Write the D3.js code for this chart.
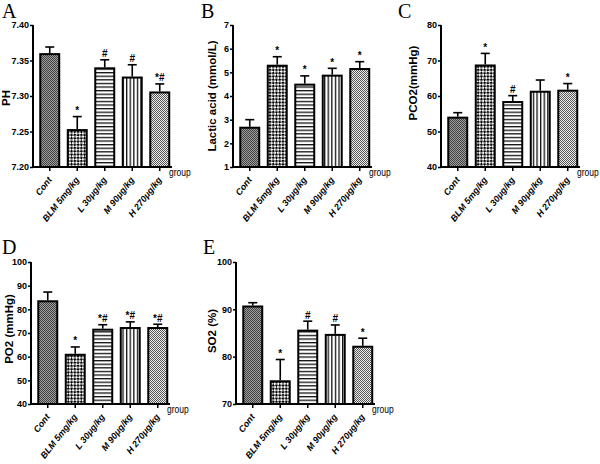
<!DOCTYPE html>
<html><head><meta charset="utf-8">
<script src="https://cdn.jsdelivr.net/npm/d3@7"></script>
<style>
html,body{margin:0;background:#fff;overflow:hidden;}
svg{display:block;}
.tick text{font-family:"Liberation Sans",Arial,sans-serif;font-weight:bold;font-size:9px;}
</style></head>
<body><svg id="chart" width="600" height="464"></svg>
<script>
const categories = ["Cont","BLM 5mg/kg","L 30μg/kg","M 90μg/kg","H 270μg/kg"];

const phMean = [7.359, 7.252, 7.339, 7.326, 7.305];
const phSem  = [0.010, 0.019, 0.012, 0.018, 0.012];
const phAnn  = ["", "*", "#", "#", "*#"];
const phTicks = [7.20, 7.25, 7.30, 7.35, 7.40];

const lacticMean = [2.66, 5.28, 4.48, 4.86, 5.14];
const lacticSem  = [0.34, 0.38, 0.37, 0.31, 0.31];
const lacticAnn  = ["", "*", "*", "*", "*"];
const lacticTicks = [1, 2, 3, 4, 5, 6, 7];

const pco2Mean = [53.9, 68.6, 58.3, 61.2, 61.5];
const pco2Sem  = [1.4, 3.4, 1.8, 3.3, 2.0];
const pco2Ann  = ["", "*", "#", "", "*"];
const pco2Ticks = [40, 50, 60, 70, 80];

const po2Mean = [83.4, 60.8, 71.4, 72.1, 72.1];
const po2Sem  = [3.9, 3.3, 2.1, 2.6, 1.6];
const po2Ann  = ["", "*", "*#", "*#", "*#"];
const po2Ticks = [40, 50, 60, 70, 80, 90, 100];

const so2Mean = [90.6, 74.8, 85.5, 84.6, 82.1];
const so2Sem  = [0.8, 4.6, 2.0, 2.1, 1.8];
const so2Ann  = ["", "*", "#", "#", "*"];
const so2Ticks = [70, 80, 90, 100];

const panels = [
  {letter:"A", lx:2, ly:18, x0:33, yTop:25, yBot:167, mean:phMean, sem:phSem, ann:phAnn, ticks:phTicks, fmt:d3.format(".2f"), title:"PH", tx:7, ty:98},
  {letter:"B", lx:201, ly:18, x0:233, yTop:25, yBot:167, mean:lacticMean, sem:lacticSem, ann:lacticAnn, ticks:lacticTicks, fmt:d3.format("d"), title:"Lactic acid (mmol/L)", tx:213, ty:96},
  {letter:"C", lx:398, ly:18, x0:441, yTop:25, yBot:167, mean:pco2Mean, sem:pco2Sem, ann:pco2Ann, ticks:pco2Ticks, fmt:d3.format("d"), title:"PCO2(mmHg)", tx:414, ty:83},
  {letter:"D", lx:2, ly:254, x0:31, yTop:262, yBot:404, mean:po2Mean, sem:po2Sem, ann:po2Ann, ticks:po2Ticks, fmt:d3.format("d"), title:"PO2 (mmHg)", tx:10, ty:329},
  {letter:"E", lx:203, ly:254, x0:236, yTop:262, yBot:404, mean:so2Mean, sem:so2Sem, ann:so2Ann, ticks:so2Ticks, fmt:d3.format("d"), title:"SO2 (%)", tx:213, ty:331}
];

const svg = d3.select("#chart");
const defs = svg.append("defs");

function checker(id, a, b, size, rot){
  const p = defs.append("pattern").attr("id", id).attr("patternUnits","userSpaceOnUse").attr("width", size*2).attr("height", size*2);
  if (rot) p.attr("patternTransform", `rotate(${rot})`);
  p.append("rect").attr("width", size*2).attr("height", size*2).attr("fill", b);
  p.append("rect").attr("width", size).attr("height", size).attr("fill", a);
  p.append("rect").attr("x", size).attr("y", size).attr("width", size).attr("height", size).attr("fill", a);
}
checker("pCont", "#404040", "#a0a0a0", 1, 0);
checker("pH", "#555", "#eeeeee", 1, 0);
checker("pBLM", "#000", "#fff", 2.3, 45);
(function(){
  const p = defs.append("pattern").attr("id","pL").attr("patternUnits","userSpaceOnUse").attr("width",4).attr("height",3.6);
  p.append("rect").attr("width",4).attr("height",3.6).attr("fill","#fff");
  p.append("rect").attr("y",0).attr("width",4).attr("height",1.3).attr("fill","#111");
  const q = defs.append("pattern").attr("id","pM").attr("patternUnits","userSpaceOnUse").attr("width",3.6).attr("height",4);
  q.append("rect").attr("width",3.6).attr("height",4).attr("fill","#fff");
  q.append("rect").attr("x",0).attr("width",1.3).attr("height",4).attr("fill","#111");
})();
const fills = ["url(#pCont)","url(#pBLM)","url(#pL)","url(#pM)","url(#pH)"];

const sans = "'Liberation Sans',Arial,sans-serif";

panels.forEach(P => {
  const g = svg.append("g");
  const x = d3.scaleBand().domain(categories).range([P.x0 + 3, P.x0 + 140.5]).paddingInner(0.31).paddingOuter(0.155);
  const y = d3.scaleLinear().domain([P.ticks[0], P.ticks[P.ticks.length-1]]).range([P.yBot, P.yTop]);

  const data = categories.map((c,i) => ({c, m:P.mean[i], s:P.sem[i], a:P.ann[i], f:fills[i]}));
  g.selectAll("rect.bar").data(data).join("rect").attr("class","bar")
    .attr("x", d => x(d.c)).attr("width", x.bandwidth())
    .attr("y", d => y(d.m)).attr("height", d => P.yBot - y(d.m))
    .attr("fill", d => d.f).attr("stroke","#000").attr("stroke-width",2);
  const cx = d => x(d.c) + x.bandwidth()/2;
  g.selectAll("line.err").data(data).join("line").attr("class","err")
    .attr("x1", cx).attr("x2", cx).attr("y1", d => y(d.m) - 1).attr("y2", d => y(d.m + d.s))
    .attr("stroke","#000").attr("stroke-width",1.6);
  g.selectAll("line.cap").data(data).join("line").attr("class","cap")
    .attr("x1", d => cx(d) - 4.5).attr("x2", d => cx(d) + 4.5).attr("y1", d => y(d.m + d.s)).attr("y2", d => y(d.m + d.s))
    .attr("stroke","#000").attr("stroke-width",1.6);
  g.selectAll("text.ann").data(data).join("text").attr("class","ann")
    .attr("x", cx).attr("y", d => y(d.m + d.s) - 2.5)
    .attr("text-anchor","middle").attr("font-family", sans).attr("font-weight","bold").attr("font-size",10)
    .text(d => d.a);

  const ya = g.append("g").attr("transform", `translate(${P.x0},0)`)
    .call(d3.axisLeft(y).tickValues(P.ticks).tickFormat(P.fmt).tickSize(3).tickPadding(1));
  ya.select(".domain").attr("stroke-width",2).attr("d", `M0,${P.yTop}V${P.yBot+1}`);
  ya.selectAll(".tick line").attr("stroke-width",1.5);

  const xa = g.append("g").attr("transform", `translate(0,${P.yBot})`)
    .call(d3.axisBottom(x).tickSize(4).tickFormat(""));
  xa.select(".domain").attr("stroke-width",2).attr("d", `M${P.x0-1},0H${P.x0+139}`);
  xa.selectAll(".tick line").attr("stroke-width",1.5);
  xa.selectAll(".tick").append("text")
    .attr("transform","translate(2.5,13) rotate(-52)")
    .attr("text-anchor","end").attr("fill","#000")
    .attr("font-style","italic").attr("font-size",9.5)
    .text(d => d);

  g.append("text").attr("transform", `translate(${P.x0 + 136},${P.yBot + 9}) scale(0.74,1)`)
    .attr("font-family", sans).attr("font-size",11.5)
    .text("group");

  g.append("text").attr("transform", `translate(${P.tx},${P.ty}) rotate(-90)`)
    .attr("text-anchor","middle").attr("dominant-baseline","middle")
    .attr("font-family", sans).attr("font-weight","bold").attr("font-size",11.5)
    .text(P.title);

  g.append("text").attr("x", P.lx).attr("y", P.ly)
    .attr("font-family","'Liberation Serif','Times New Roman',serif").attr("font-size",20)
    .text(P.letter);
});
</script></body></html>
